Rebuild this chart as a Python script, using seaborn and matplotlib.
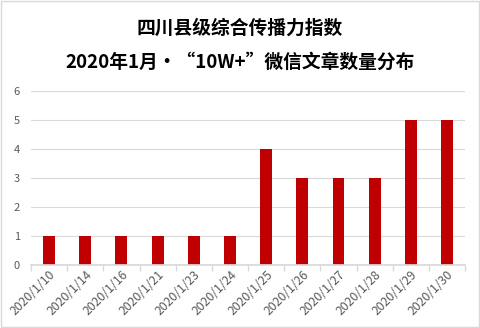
import matplotlib
matplotlib.use("Agg")
import matplotlib.pyplot as plt
import seaborn as sns
import pandas as pd

dates = ["2020/1/10", "2020/1/14", "2020/1/16", "2020/1/21", "2020/1/23", "2020/1/24",
         "2020/1/25", "2020/1/26", "2020/1/27", "2020/1/28", "2020/1/29", "2020/1/30"]
counts = [1, 1, 1, 1, 1, 1, 4, 3, 3, 3, 5, 5]
title_lines = ["四川县级综合传播力指数", "2020年1月•“10W+”微信文章数量分布"]

sns.set_theme(style="white")
plt.rcParams['font.family'] = ['Noto Sans CJK SC', 'DejaVu Sans']

df = pd.DataFrame({"date": dates, "count": counts})
fig = plt.figure(figsize=(4.8, 3.28), dpi=100)
ax = fig.add_axes([0.0646, 0.192, 0.9044, 0.5306])
sns.barplot(data=df, x="date", y="count", color="#C00000", width=0.33, ax=ax,
            saturation=1, linewidth=0, edgecolor="none")
ax.set_xlim(-0.5, len(dates) - 0.5)
ax.set_ylim(0, 6)
ax.set_yticks(range(0, 7))
ax.grid(axis="y", color="#D9D9D9", linewidth=0.8)
ax.set_axisbelow(True)
for s in ["top", "right", "left"]:
    ax.spines[s].set_visible(False)
ax.spines["bottom"].set_color("#D9D9D9")
ax.set_xlabel("")
ax.set_ylabel("")
ax.set_xticks([i - 0.5 for i in range(len(dates) + 1)], minor=True)
ax.tick_params(axis="x", which="minor", length=4, color="#D9D9D9", bottom=True)
ax.tick_params(axis="x", which="major", length=0, labelsize=8.8, labelcolor="#595959", pad=2)
ax.tick_params(axis="y", length=0, labelsize=8, labelcolor="#595959", pad=8)
for lab in ax.get_xticklabels():
    lab.set_rotation(45)
    lab.set_ha("right")
    lab.set_rotation_mode("anchor")
fig.text(0.5, 1 - 28 / 328, title_lines[0], ha="center", va="center", fontsize=13.5, fontweight="bold", color="black")
fig.text(0.5, 1 - 62 / 328, title_lines[1], ha="center", va="center", fontsize=13.5, fontweight="bold", color="black")
fig.patches.append(plt.Rectangle((0.002, 0.003), 0.996, 0.994, transform=fig.transFigure,
                                 fill=False, edgecolor="#D9D9D9", linewidth=1))
fig.savefig("out.png", dpi=100)
